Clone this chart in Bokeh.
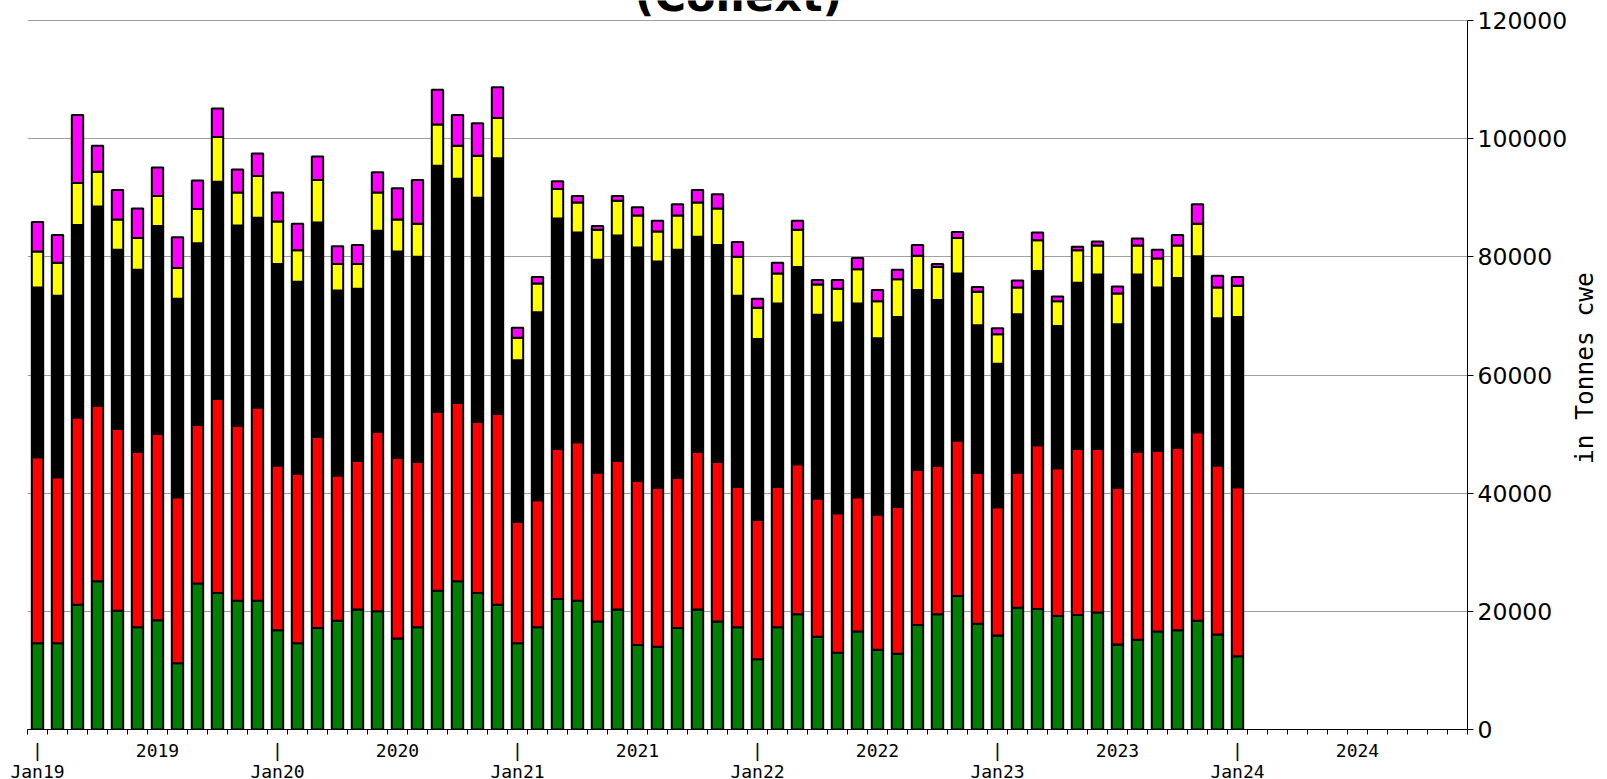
import math
from bokeh.plotting import figure
from bokeh.models import ColumnDataSource, FixedTicker, Range1d, Label, NumeralTickFormatter
from bokeh.embed import file_html
from bokeh.resources import INLINE

# ---- data (tonnes cwe), monthly Jan19 .. Jan24 ----
months = [
    "Jan19", "Feb19", "Mar19", "Apr19", "May19", "Jun19", "Jul19", "Aug19", "Sep19", "Oct19", "Nov19", "Dec19",
    "Jan20", "Feb20", "Mar20", "Apr20", "May20", "Jun20", "Jul20", "Aug20", "Sep20", "Oct20", "Nov20", "Dec20",
    "Jan21", "Feb21", "Mar21", "Apr21", "May21", "Jun21", "Jul21", "Aug21", "Sep21", "Oct21", "Nov21", "Dec21",
    "Jan22", "Feb22", "Mar22", "Apr22", "May22", "Jun22", "Jul22", "Aug22", "Sep22", "Oct22", "Nov22", "Dec22",
    "Jan23", "Feb23", "Mar23", "Apr23", "May23", "Jun23", "Jul23", "Aug23", "Sep23", "Oct23", "Nov23", "Dec23",
    "Jan24",
]

series_green = [
    14600, 14600, 21100, 25100, 20100, 17300, 18500, 11200, 24700, 23100, 21800, 21800,
    16800, 14600, 17200, 18400, 20300, 20000, 15400, 17300, 23500, 25100, 23100, 21100,
    14600, 17300, 22100, 21800, 18300, 20300, 14300, 14000, 17200, 20300, 18300, 17300,
    11900, 17300, 19500, 15700, 13000, 16600, 13500, 12800, 17700, 19500, 22600, 17900,
    15900, 20600, 20400, 19200, 19400, 19800, 14400, 15200, 16600, 16800, 18400, 16100,
    12400,
]
series_red = [
    31500, 28100, 31700, 29700, 30800, 29700, 31500, 28100, 26900, 32900, 29600, 32700,
    27900, 28700, 32300, 24600, 25200, 30400, 30600, 28000, 30300, 30200, 29000, 32300,
    20500, 21500, 25400, 26800, 25200, 25200, 27800, 26900, 25400, 26700, 27000, 23800,
    23600, 23800, 25400, 23400, 23600, 22700, 22900, 24900, 26200, 25100, 26300, 25500,
    21700, 22900, 27700, 25000, 28100, 27700, 26500, 31800, 30600, 30900, 31900, 28600,
    28600,
]
series_black = [
    28700, 30700, 32600, 33700, 30300, 30800, 35200, 33600, 30700, 36700, 33900, 32100,
    34100, 32500, 36300, 31300, 29100, 34000, 34900, 34700, 41600, 37900, 37900, 43300,
    27400, 31800, 39000, 35500, 36000, 38100, 39500, 38300, 38600, 36400, 36700, 32300,
    30600, 31000, 33400, 31100, 32300, 32800, 29800, 32100, 30500, 28100, 28300, 25000,
    24300, 26800, 29500, 24100, 28100, 29500, 27700, 30000, 27600, 28700, 29800, 24900,
    28800,
]
series_yellow = [
    6100, 5600, 7100, 5900, 5100, 5400, 5100, 5200, 5800, 7600, 5600, 7100,
    7200, 5300, 7200, 4500, 4200, 6500, 5400, 5600, 7000, 5600, 7100, 6800,
    3800, 4900, 5000, 5100, 5100, 5900, 5400, 5100, 5800, 5800, 6200, 6600,
    5300, 5100, 6300, 5100, 5700, 5800, 6300, 6400, 5800, 5600, 6000, 5700,
    5000, 4500, 5200, 4200, 5500, 4900, 5200, 4900, 4900, 5500, 5500, 5200,
    5300,
]
series_magenta = [
    5000, 4700, 11500, 4400, 5000, 5000, 4800, 5200, 4800, 4800, 3900, 3800,
    4900, 4500, 4000, 3000, 3200, 3400, 5300, 7400, 5900, 5200, 5500, 5200,
    1700, 1100, 1300, 1100, 600, 800, 1400, 1800, 1900, 2100, 2400, 2500,
    1500, 1800, 1500, 800, 1500, 1900, 1900, 1600, 1800, 500, 1000, 800,
    1000, 1200, 1300, 800, 600, 700, 1200, 1200, 1500, 1800, 3300, 2000,
    1500,
]

series_names = ["green", "red", "black", "yellow", "magenta"]
series_colors = ["#008000", "#ff0000", "#000000", "#ffff00", "#ff00ff"]

# x tick labels (position index -> text)
x_tick_labels = {
    0: "|\nJan19", 6: "2019", 12: "|\nJan20", 18: "2020", 24: "|\nJan21", 30: "2021",
    36: "|\nJan22", 42: "2022", 48: "|\nJan23", 54: "2023", 60: "|\nJan24", 66: "2024",
}
y_ticks = [0, 20000, 40000, 60000, 80000, 100000, 120000]
y_max = 120000
title_text = "(Collext)"
y_label_text = "in Tonnes cwe"

# ---- figure ----
source = ColumnDataSource(dict(
    x=list(range(len(months))),
    month=months,
    green=series_green,
    red=series_red,
    black=series_black,
    yellow=series_yellow,
    magenta=series_magenta,
))

# the frame reaches the top of the canvas so that the (mostly cut-off) title
# can be drawn there; the value axis itself is bounded to 0..120000
frame_h = 729
axis_h = 709
p = figure(
    frame_width=1440, frame_height=frame_h,
    x_range=Range1d(-0.5, 71.5), y_range=Range1d(0, y_max * frame_h / axis_h),
    y_axis_location="right",
    min_border_left=27, min_border_top=0, min_border_right=136, min_border_bottom=50,
    toolbar_location=None, output_backend="svg",
    background_fill_color="white", border_fill_color="white",
)
p.outline_line_color = None

p.vbar_stack(series_names, x="x", width=0.57, color=series_colors,
             line_color="black", line_width=2, source=source)

# x axis
boundaries = [i - 0.5 for i in range(73)]
xax = p.xaxis[0]
xax.ticker = FixedTicker(ticks=list(x_tick_labels.keys()), minor_ticks=boundaries)
xax.major_label_overrides = x_tick_labels
xax.major_tick_line_color = None
xax.major_tick_out = 0
xax.major_tick_in = 0
xax.minor_tick_out = 5
xax.minor_tick_in = 0
xax.minor_tick_line_color = "black"
xax.axis_line_color = "black"
xax.major_label_text_font = "DejaVu Sans Mono"
xax.major_label_text_font_size = "18px"
xax.major_label_text_line_height = 1.0
xax.major_label_text_color = "black"
xax.major_label_standoff = 5
p.xgrid.visible = False

# y axis
yax = p.yaxis[0]
yax.bounds = (0, y_max)
yax.ticker = FixedTicker(ticks=y_ticks)
yax.formatter = NumeralTickFormatter(format="0")
yax.major_tick_out = 6
yax.major_tick_in = 0
yax.minor_tick_line_color = None
yax.axis_line_color = "black"
yax.major_label_text_font = "DejaVu Sans"
yax.major_label_text_font_size = "23.5px"
yax.major_label_text_color = "black"
yax.major_label_standoff = 4
# axis title reads bottom to top; it starts at the bottom of the axis, so it is
# lifted to the reference position with leading non-breaking spaces
yax.axis_label = "\u00a0" * 18 + y_label_text
yax.axis_label_orientation = math.pi / 2
yax.axis_label_align = "start"
yax.axis_label_standoff = 14
yax.axis_label_text_font = "DejaVu Sans Mono"
yax.axis_label_text_font_size = "24.5px"
yax.axis_label_text_font_style = "normal"
yax.axis_label_text_color = "black"
p.ygrid.ticker = FixedTicker(ticks=y_ticks)
p.ygrid.grid_line_color = "#a0a0a0"
p.ygrid.grid_line_width = 1

# chart title, mostly above the visible page
p.add_layout(Label(x=35.05, y=y_max, y_offset=24.5, text=title_text,
                   text_align="center", text_baseline="alphabetic",
                   text_font="DejaVu Sans", text_font_style="bold", text_font_size="43px",
                   text_color="black"))

open("out.html", "w").write(file_html(p, INLINE))
